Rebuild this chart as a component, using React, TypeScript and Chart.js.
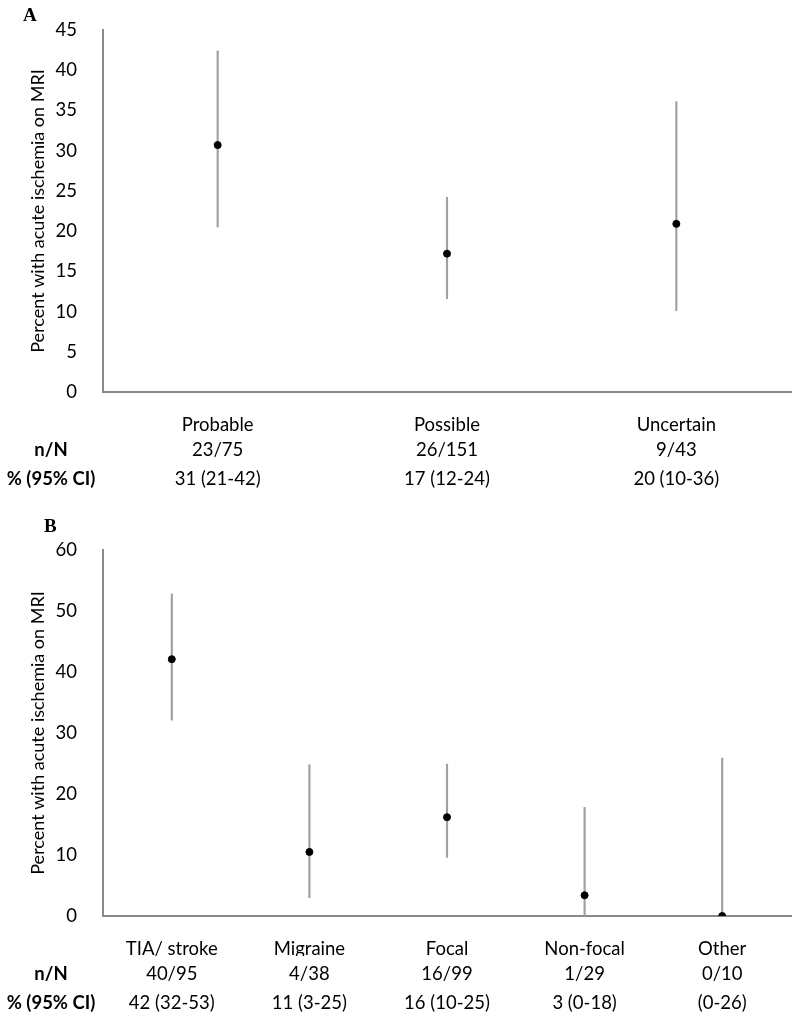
import React, { useEffect, useRef } from 'react';
import { Chart, registerables } from 'chart.js';

Chart.register(...registerables);

// ---------- Panel A data ----------
const categoriesA = ['Probable', 'Possible', 'Uncertain'];
const pointsA = [30.7, 17.2, 20.9];
const ciLowA = [20.5, 11.6, 10.1];
const ciHighA = [42.4, 24.2, 36.1];
const nNA = ['23/75', '26/151', '9/43'];
const pctA = ['31 (21-42)', '17 (12-24)', '20 (10-36)'];
const yMaxA = 45;
const yStepA = 5;

// ---------- Panel B data ----------
const categoriesB = ['TIA/ stroke', 'Migraine', 'Focal', 'Non-focal', 'Other'];
const pointsB = [42.1, 10.5, 16.2, 3.4, 0];
const ciLowB = [32.1, 3.0, 9.6, 0, 0];
const ciHighB = [52.8, 24.8, 24.9, 17.8, 25.9];
const nNB = ['40/95', '4/38', '16/99', '1/29', '0/10'];
const pctB = ['42 (32-53)', '11 (3-25)', '16 (10-25)', '3 (0-18)', '(0-26)'];
const yMaxB = 60;
const yStepB = 10;

const rowHeaders = ['n/N', '% (95% CI)'];
const yTitle = 'Percent with acute ischemia on MRI';

const FONT = 'Lato, "Noto Sans", sans-serif';
const FS = 18.5;
const AXIS_COLOR = '#8a8a8a';
const BAR_COLOR = '#a0a0a0';

const tablePlugin = {
  id: 'tableRows',
  afterDraw(chart: any, _args: any, opts: any) {
    const { ctx, chartArea, scales } = chart;
    const x = scales.x;
    ctx.save();
    ctx.fillStyle = '#000';
    ctx.textBaseline = 'middle';
    ctx.textAlign = 'center';
    opts.rows.forEach((row: string[], r: number) => {
      const y = chartArea.bottom + opts.offsets[r];
      ctx.font = `bold ${opts.size}px ${FONT}`;
      ctx.fillText(rowHeaders[r], opts.headerX, y);
      ctx.font = `${opts.size}px ${FONT}`;
      row.forEach((v: string, i: number) => ctx.fillText(v, x.getPixelForValue(i), y));
    });
    ctx.font = `bold 19px "Liberation Serif", "DejaVu Serif", serif`;
    ctx.textAlign = 'left';
    ctx.fillText(opts.letter, opts.letterX, opts.letterY);
    ctx.restore();
  },
};

function makeConfig(p: any) {
  return {
    type: 'bar',
    data: {
      labels: p.categories,
      datasets: [
        {
          type: 'line',
          data: p.points,
          showLine: false,
          pointRadius: 3.5,
          pointHoverRadius: 3.5,
          pointBackgroundColor: '#000',
          pointBorderColor: '#000',
          borderColor: '#000',
          order: 0,
        },
        {
          type: 'bar',
          data: p.categories.map((_: string, i: number) => [p.lo[i], p.hi[i]]),
          backgroundColor: BAR_COLOR,
          barThickness: 1.5,
          order: 1,
        },
      ],
    },
    options: {
      responsive: false,
      animation: false,
      events: [],
      layout: { padding: { top: p.padTop, left: 0, right: 9, bottom: p.padBottom } },
      plugins: {
        legend: { display: false },
        tooltip: { enabled: false },
        tableRows: {
          rows: [p.nN, p.pct],
          offsets: [58, 87],
          size: FS,
          headerX: 51,
          letter: p.letter,
          letterX: p.letterX,
          letterY: p.letterY,
        },
      },
      scales: {
        x: {
          type: 'category',
          grid: { display: false },
          border: { display: true, color: AXIS_COLOR, width: 2 },
          ticks: { color: '#000', font: { family: FONT, size: FS }, padding: 14, maxRotation: 0, autoSkip: false },
          afterFit: (s: any) => { s.height = 40; },
        },
        y: {
          min: 0,
          max: p.yMax,
          grid: { display: false },
          border: { display: true, color: AXIS_COLOR, width: 2 },
          ticks: { stepSize: p.yStep, color: '#000', font: { family: FONT, size: FS }, padding: 18 },
          title: {
            display: true,
            text: yTitle,
            color: '#000',
            font: { family: FONT, size: 18 },
            padding: { top: 27, bottom: 0 },
          },
          afterFit: (s: any) => { s.width = 103; },
        },
      },
    },
    plugins: [tablePlugin],
  };
}

function Panel(props: { cfg: any; top: number; height: number }) {
  const ref = useRef<HTMLCanvasElement | null>(null);
  useEffect(() => {
    if (!ref.current) return;
    const chart = new Chart(ref.current, props.cfg);
    return () => chart.destroy();
  }, []);
  return (
    <div style={{ position: 'absolute', left: 0, top: props.top, width: 800, height: props.height }}>
      <canvas ref={ref} width={800} height={props.height} style={{ display: 'block' }} />
    </div>
  );
}

export default function App() {
  const cfgA = makeConfig({
    categories: categoriesA, points: pointsA, lo: ciLowA, hi: ciHighA,
    nN: nNA, pct: pctA, yMax: yMaxA, yStep: yStepA,
    padTop: 30, padBottom: 500 - 392 - 40,
    letter: 'A', letterX: 23, letterY: 16,
  });
  const cfgB = makeConfig({
    categories: categoriesB, points: pointsB, lo: ciLowB, hi: ciHighB,
    nN: nNB, pct: pctB, yMax: yMaxB, yStep: yStepB,
    padTop: 50, padBottom: 524 - 416 - 40,
    letter: 'B', letterX: 44, letterY: 27,
  });
  return (
    <div style={{ position: 'absolute', left: 0, top: 0, width: 800, height: 1024, background: '#fff' }}>
      <Panel cfg={cfgA} top={0} height={500} />
      <Panel cfg={cfgB} top={500} height={524} />
    </div>
  );
}
